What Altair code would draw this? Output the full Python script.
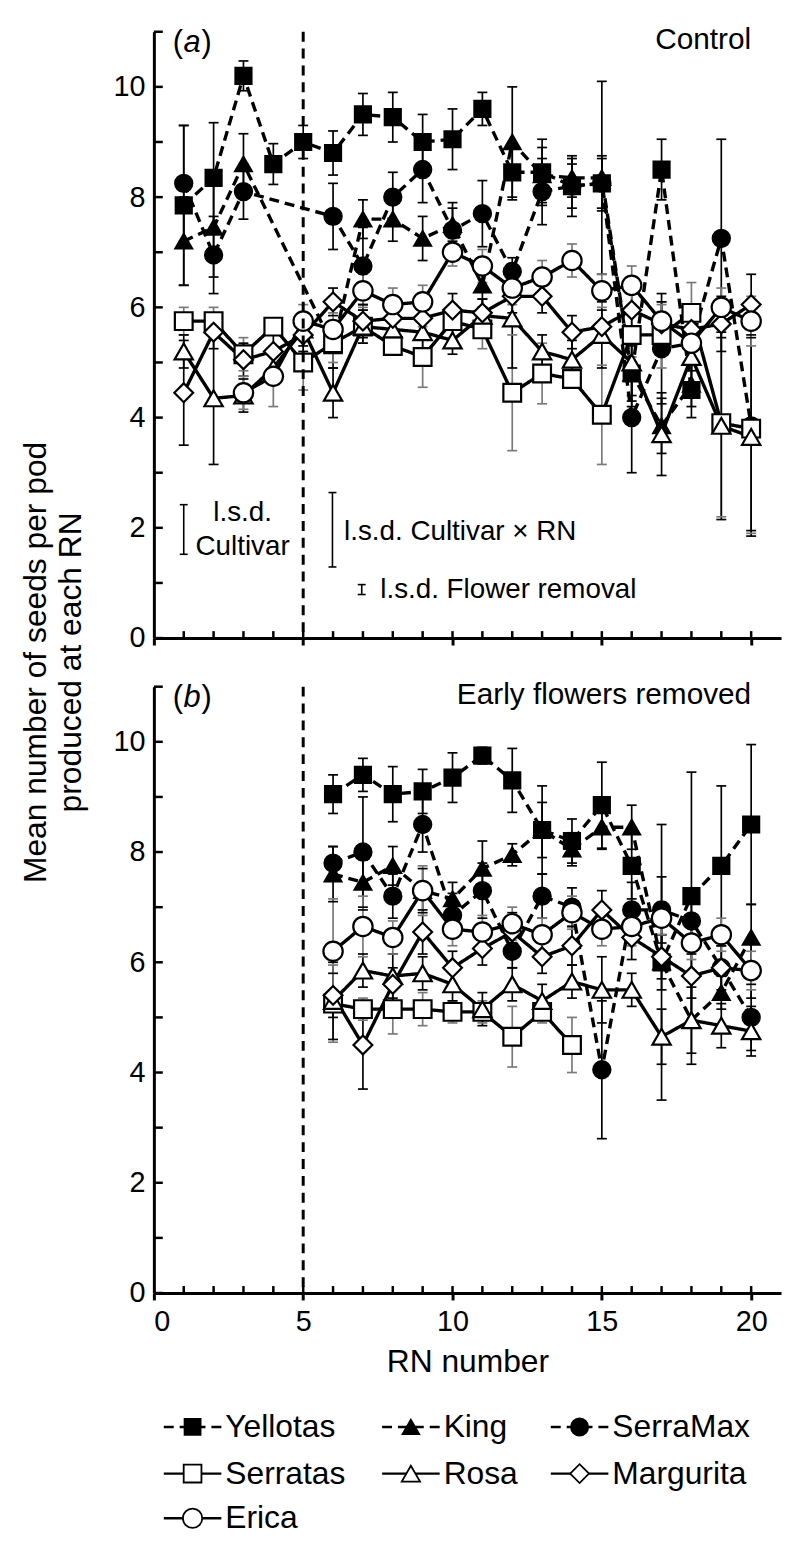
import altair as alt
import pandas as pd

FONT = "Liberation Sans"

# ---------------- data ----------------
cultivars = ["Yellotas", "King", "SerraMax", "Serratas", "Rosa", "Margurita", "Erica"]
line_style = ["dash", "dash", "dash", "solid", "solid", "solid", "solid"]
shapes = ["square", "triangle-up", "circle", "square", "triangle-up", "diamond", "circle"]
fills = ["black", "black", "black", "white", "white", "white", "white"]
sizes = [260, 380, 300, 260, 380, 330, 300]
legend_sizes = [130, 200, 150, 130, 200, 190, 150]
bar_colors = ["black", "black", "black", "#7a7a7a", "black", "black", "#7a7a7a"]

# Panel (a) Control
a_yellotas_rn = list(range(1, 19))
a_yellotas = [7.85, 8.35, 10.2, 8.6, 9.0, 8.8, 9.5, 9.45, 9.0, 9.05, 9.6, 8.45, 8.45, 8.2, 8.25, 4.8, 8.5, 4.5]
a_yellotas_err = [1.45, 1.0, 0.27, 0.37, 0.3, 0.4, 0.38, 0.45, 0.5, 0.55, 0.3, 0.5, 0.6, 0.55, 0.5, 0.5, 0.55, 0.5]

a_king_rn = [1, 2, 3, 6, 7, 8, 9, 10, 11, 12, 13, 14, 15, 16, 17, 18]
a_king = [7.2, 7.45, 8.6, 5.3, 7.6, 7.6, 7.25, 7.5, 6.4, 9.0, 8.4, 8.35, 8.35, 4.8, 3.85, 4.6]
a_king_err = [0.8, 0.9, 0.55, 0.4, 0.35, 0.4, 0.4, 0.3, 0.4, 1.0, 0.5, 0.35, 1.75, 0.6, 0.5, 0.4]

a_serramax_rn = [1, 2, 3, 6, 7, 8, 9, 10, 11, 12, 13, 14, 15, 16, 17, 18, 19, 20]
a_serramax = [8.25, 6.95, 8.1, 7.65, 6.75, 8.0, 8.5, 7.4, 7.7, 6.65, 8.1, 8.2, 8.25, 4.0, 5.25, 5.35, 7.25, 3.85]
a_serramax_err = [1.05, 0.7, 0.5, 0.6, 0.7, 0.45, 0.6, 0.5, 0.6, 0.25, 0.6, 0.4, 0.45, 1.0, 1.0, 0.5, 1.8, 1.9]

a_serratas_rn = list(range(1, 21))
a_serratas = [5.75, 5.75, 5.15, 5.65, 5.0, 5.35, 5.65, 5.3, 5.1, 5.75, 5.6, 4.45, 4.8, 4.7, 4.05, 5.5, 5.5, 5.9, 3.9, 3.8]
a_serratas_err = [0.25, 0.25, 0.3, 0.15, 0.5, 0.35, 0.3, 0.15, 0.55, 0.3, 0.35, 1.05, 0.55, 0.15, 0.9, 0.4, 0.6, 0.55, 1.7, 1.9]

a_rosa_rn = list(range(1, 21))
a_rosa = [5.2, 4.35, 4.4, 4.9, 5.6, 4.45, 5.65, 5.6, 5.55, 5.4, 5.85, 5.8, 5.2, 5.05, 5.5, 5.0, 3.7, 5.1, 3.85, 3.65]
a_rosa_err = [0.3, 1.2, 0.3, 0.3, 0.3, 0.45, 0.3, 0.3, 0.3, 0.25, 0.3, 0.9, 0.3, 0.35, 0.6, 0.6, 0.75, 0.5, 1.7, 1.8]

a_margurita_rn = list(range(1, 21))
a_margurita = [4.45, 5.55, 5.05, 5.2, 5.5, 6.1, 5.75, 5.8, 5.8, 5.95, 5.9, 6.2, 6.2, 5.55, 5.65, 5.95, 5.7, 5.6, 5.7, 6.05]
a_margurita_err = [0.95, 0.3, 0.3, 0.3, 0.3, 0.25, 0.3, 0.3, 0.3, 0.3, 0.25, 0.3, 0.3, 0.3, 0.3, 0.4, 0.4, 0.4, 0.5, 0.55]

a_erica_rn = list(range(3, 21))
a_erica = [4.45, 4.75, 5.75, 5.6, 6.3, 6.05, 6.1, 7.0, 6.75, 6.35, 6.55, 6.85, 6.3, 6.4, 5.75, 5.35, 6.0, 5.75]
a_erica_err = [0.3, 0.55, 0.3, 0.3, 0.3, 0.3, 0.3, 0.25, 0.3, 0.3, 0.3, 0.3, 0.3, 0.35, 0.3, 0.3, 0.35, 0.45]

# Panel (b) Early flowers removed
b_rn = list(range(6, 21))
b_yellotas = [9.05, 9.4, 9.05, 9.1, 9.35, 9.75, 9.3, 8.4, 8.2, 8.85, 7.75, 6.0, 7.2, 7.75, 8.5]
b_yellotas_err = [0.35, 0.3, 0.5, 0.4, 0.45, 0.15, 0.58, 0.8, 0.4, 0.78, 0.6, 2.5, 2.25, 1.45, 1.45]
b_king = [7.6, 7.45, 7.75, 7.3, 7.15, 7.7, 7.95, 8.4, 8.05, 8.45, 8.45, 6.0, 4.95, 5.45, 6.45]
b_king_err = [0.5, 0.5, 0.35, 0.4, 0.3, 0.5, 0.2, 0.5, 0.3, 0.4, 0.4, 0.5, 0.6, 0.3, 0.6]
b_serramax = [7.8, 8.0, 7.2, 8.5, 6.85, 7.3, 6.2, 7.2, 7.0, 4.05, 6.95, 6.95, 6.75, 5.9, 5.0]
b_serramax_err = [0.3, 1.0, 0.4, 0.5, 0.4, 0.5, 0.3, 0.4, 0.35, 1.25, 0.5, 0.6, 0.5, 0.5, 0.6]
b_serratas_rn = list(range(6, 15))
b_serratas = [5.25, 5.15, 5.15, 5.15, 5.1, 5.1, 4.65, 5.1, 4.5]
b_serratas_err = [0.7, 0.2, 0.45, 0.3, 0.2, 0.2, 0.55, 0.2, 0.5]
b_rosa = [5.3, 5.85, 5.75, 5.8, 5.6, 5.15, 5.6, 5.3, 5.65, 5.5, 5.5, 4.65, 4.95, 4.85, 4.75]
b_rosa_err = [0.7, 0.3, 0.4, 0.3, 0.3, 0.3, 0.3, 0.3, 0.3, 0.6, 0.3, 0.5, 0.8, 0.4, 0.45]
b_margurita = [5.4, 4.5, 5.6, 6.55, 5.9, 6.25, 6.55, 6.1, 6.3, 6.95, 6.45, 6.1, 5.75, 5.9, 5.85]
b_margurita_err = [0.4, 0.8, 0.3, 0.4, 0.3, 0.3, 0.35, 0.3, 0.35, 0.35, 0.4, 0.4, 0.4, 0.4, 0.5]
b_erica = [6.2, 6.65, 6.45, 7.3, 6.6, 6.55, 6.7, 6.5, 6.9, 6.6, 6.65, 6.8, 6.35, 6.5, 5.85]
b_erica_err = [0.95, 0.55, 0.3, 0.45, 0.3, 0.3, 0.3, 0.3, 0.3, 0.3, 0.35, 0.3, 0.3, 0.3, 0.35]

# annotations
vline_x = [5]
x_tick_values = [0, 5, 10, 15, 20]
minor_x = list(range(1, 21))
minor_y = list(range(0, 12))
lsd_x = [1.0, 5.98, 6.96]
lsd_lo = [1.52, 1.29, 0.79]
lsd_hi = [2.42, 2.64, 0.97]
lsd_text = ["l.s.d.", "Cultivar", "l.s.d. Cultivar \u00d7 RN", "l.s.d. Flower removal"]
lsd_text_x = [2.97, 2.97, 6.37, 7.58]
lsd_text_y = [2.27, 1.66, 1.92, 0.88]
lsd_text_align = ["center", "center", "left", "left"]
panel_letters = ["a", "b"]
panel_titles = ["Control", "Early flowers removed"]
y_title = "Mean number of seeds per pod\nproduced at each RN"

# ---------------- helpers ----------------
def rows(name, rns, means, errs):
    return [dict(cultivar=name, style=line_style[cultivars.index(name)], rn=r, mean=m,
                 lo=round(m - e, 3), hi=round(m + e, 3)) for r, m, e in zip(rns, means, errs)]

df_a = pd.DataFrame(
    rows("Yellotas", a_yellotas_rn, a_yellotas, a_yellotas_err)
    + rows("King", a_king_rn, a_king, a_king_err)
    + rows("SerraMax", a_serramax_rn, a_serramax, a_serramax_err)
    + rows("Serratas", a_serratas_rn, a_serratas, a_serratas_err)
    + rows("Rosa", a_rosa_rn, a_rosa, a_rosa_err)
    + rows("Margurita", a_margurita_rn, a_margurita, a_margurita_err)
    + rows("Erica", a_erica_rn, a_erica, a_erica_err)
)
df_b = pd.DataFrame(
    rows("Yellotas", b_rn, b_yellotas, b_yellotas_err)
    + rows("King", b_rn, b_king, b_king_err)
    + rows("SerraMax", b_rn, b_serramax, b_serramax_err)
    + rows("Serratas", b_serratas_rn, b_serratas, b_serratas_err)
    + rows("Rosa", b_rn, b_rosa, b_rosa_err)
    + rows("Margurita", b_rn, b_margurita, b_margurita_err)
    + rows("Erica", b_rn, b_erica, b_erica_err)
)

W, H, SP = 632, 611, 49
LEG_H = 196

xs = alt.Scale(domain=[0, 21], nice=False, zero=False)
ys = alt.Scale(domain=[0, 11], nice=False)
dash_scale = alt.Scale(domain=["dash", "solid"], range=[[10, 6], [1, 0]])
shape_scale = alt.Scale(domain=cultivars, range=shapes)
fill_scale = alt.Scale(domain=cultivars, range=fills)
size_scale = alt.Scale(domain=cultivars, range=sizes)
bar_scale = alt.Scale(domain=cultivars, range=bar_colors)


def make_panel(df, idx, show_x):
    if show_x:
        xaxis = alt.Axis(values=x_tick_values, labels=True, tickSize=7, tickWidth=3,
                         domainWidth=3, labelPadding=8, titlePadding=10, grid=False,
                         title="RN number")
    else:
        xaxis = alt.Axis(values=x_tick_values, labels=False, tickSize=7, tickWidth=3,
                         domainWidth=3, grid=False, title=None)
    yaxis = alt.Axis(values=minor_y, labelExpr="datum.value % 2 == 0 ? datum.label : ''",
                     ticks=False, labelPadding=9, domainWidth=3, grid=False, title=None)

    def X(f):
        return alt.X(f, scale=xs, axis=xaxis)

    def Y(f):
        return alt.Y(f, scale=ys, axis=yaxis)

    base = alt.Chart(df)
    bars = base.mark_rule(strokeWidth=1.7).encode(
        x=X("rn:Q"), y=Y("lo:Q"), y2="hi:Q",
        color=alt.Color("cultivar:N", scale=bar_scale, legend=None),
    )
    caps = base.transform_fold(["lo", "hi"], as_=["end", "val"]).mark_rule(
        strokeWidth=1.7, xOffset=-5, x2Offset=5).encode(
        x=X("rn:Q"), x2=alt.X2("rn:Q"), y=Y("val:Q"),
        color=alt.Color("cultivar:N", scale=bar_scale, legend=None),
    )
    lines = base.mark_line(strokeWidth=3.4, color="black").encode(
        x=X("rn:Q"), y=Y("mean:Q"),
        detail="cultivar:N",
        strokeDash=alt.StrokeDash("style:N", scale=dash_scale, legend=None),
        order=alt.Order("rn:Q"),
    )
    points = base.mark_point(filled=True, stroke="black", strokeWidth=2.2, opacity=1).encode(
        x=X("rn:Q"), y=Y("mean:Q"),
        shape=alt.Shape("cultivar:N", scale=shape_scale, legend=None),
        fill=alt.Fill("cultivar:N", scale=fill_scale, legend=None),
        size=alt.Size("cultivar:N", scale=size_scale, legend=None),
    )
    vline = alt.Chart(pd.DataFrame({"x": vline_x})).mark_rule(
        strokeWidth=3, strokeDash=[10, 7], color="black").encode(
        x=X("x:Q"), y=alt.value(0), y2=alt.value(H))
    yt = alt.Chart(pd.DataFrame({"v": minor_y})).mark_rule(strokeWidth=2.5, color="black").encode(
        y=Y("v:Q"), x=alt.value(0), x2=alt.value(9))
    xt = alt.Chart(pd.DataFrame({"v": minor_x})).mark_rule(strokeWidth=2.5, color="black").encode(
        x=X("v:Q"), y=alt.value(H), y2=alt.value(H - 7))
    hdr = pd.DataFrame({"x": [0.63], "y": [10.8], "letter": [panel_letters[idx]],
                        "tx": [20], "ty": [10.85], "title": [panel_titles[idx]]})
    hbase = alt.Chart(hdr)
    p_open = hbase.mark_text(text="(", align="left", baseline="middle", font=FONT, fontSize=31).encode(
        x=X("x:Q"), y=Y("y:Q"))
    p_let = hbase.mark_text(align="left", baseline="middle", font=FONT, fontSize=31,
                            fontStyle="italic", dx=11).encode(
        x=X("x:Q"), y=Y("y:Q"), text="letter:N")
    p_close = hbase.mark_text(text=")", align="left", baseline="middle", font=FONT, fontSize=31, dx=29).encode(
        x=X("x:Q"), y=Y("y:Q"))
    ttl = hbase.mark_text(align="right", baseline="middle", font=FONT, fontSize=30).encode(
        x=X("tx:Q"), y=Y("ty:Q"), text="title:N")
    layers = [bars, caps, lines, points, vline, yt, xt, p_open, p_let, p_close, ttl]
    if idx == 0:
        lsd = pd.DataFrame({"x": lsd_x, "lo": lsd_lo, "hi": lsd_hi})
        lsd_bar = alt.Chart(lsd).mark_rule(strokeWidth=1.6, color="black").encode(
            x=X("x:Q"), y=Y("lo:Q"), y2="hi:Q")
        lsd_caps = alt.Chart(lsd).transform_fold(["lo", "hi"], as_=["end", "val"]).mark_rule(
            strokeWidth=1.6, color="black", xOffset=-4, x2Offset=4).encode(
            x=X("x:Q"), x2=alt.X2("x:Q"), y=Y("val:Q"))
        lt = pd.DataFrame({"x": lsd_text_x, "y": lsd_text_y, "t": lsd_text, "al": lsd_text_align})
        lsd_c = alt.Chart(lt[lt.al == "center"]).mark_text(align="center", baseline="middle",
                                                           font=FONT, fontSize=28).encode(
            x=X("x:Q"), y=Y("y:Q"), text="t:N")
        lsd_l = alt.Chart(lt[lt.al == "left"]).mark_text(align="left", baseline="middle",
                                                         font=FONT, fontSize=28).encode(
            x=X("x:Q"), y=Y("y:Q"), text="t:N")
        ytitle = alt.Chart(pd.DataFrame({"t": [y_title]})).mark_text(
            angle=270, align="center", baseline="top", lineBreak="\n", font=FONT,
            fontSize=32, lineHeight=36).encode(
            text="t:N", x=alt.value(-134), y=alt.value(H + SP / 2))
        layers += [lsd_bar, lsd_caps, lsd_c, lsd_l, ytitle]
    return alt.layer(*layers).properties(width=W, height=H)


panel_a = make_panel(df_a, 0, False)
panel_b = make_panel(df_b, 1, True)

# ---------------- legend ----------------
leg_cols = [0, 1, 2, 0, 1, 2, 0]
leg_rows = [0, 0, 0, 1, 1, 1, 2]
col_x = [10, 230, 400]
row_y = [86, 133, 178]
leg = pd.DataFrame({
    "cultivar": cultivars,
    "style": line_style,
    "x0": [col_x[c] for c in leg_cols],
    "x1": [col_x[c] + 58 for c in leg_cols],
    "xm": [col_x[c] + 29 for c in leg_cols],
    "xt": [col_x[c] + 62 for c in leg_cols],
    "y": [row_y[r] for r in leg_rows],
})
lxs = alt.Scale(domain=[0, W], nice=False, zero=False)
lys = alt.Scale(domain=[0, LEG_H], nice=False, reverse=True)
lbase = alt.Chart(leg)
l_line = lbase.mark_rule(strokeWidth=2.4, color="black").encode(
    x=alt.X("x0:Q", scale=lxs, axis=None), x2="x1:Q",
    y=alt.Y("y:Q", scale=lys, axis=None),
    strokeDash=alt.StrokeDash("style:N", scale=alt.Scale(domain=["dash", "solid"], range=[[5, 4], [1, 0]]), legend=None))
l_pt = lbase.mark_point(filled=True, stroke="black", strokeWidth=1.8, opacity=1).encode(
    x=alt.X("xm:Q", scale=lxs, axis=None), y=alt.Y("y:Q", scale=lys, axis=None),
    shape=alt.Shape("cultivar:N", scale=shape_scale, legend=None),
    fill=alt.Fill("cultivar:N", scale=fill_scale, legend=None),
    size=alt.Size("cultivar:N", scale=alt.Scale(domain=cultivars, range=legend_sizes), legend=None))
l_txt = lbase.mark_text(align="left", baseline="middle", font=FONT, fontSize=32).encode(
    x=alt.X("xt:Q", scale=lxs, axis=None), y=alt.Y("y:Q", scale=lys, axis=None), text="cultivar:N")
legend = alt.layer(l_line, l_pt, l_txt).properties(width=W, height=LEG_H)

chart = alt.vconcat(panel_a, panel_b, legend, spacing=SP, bounds="flush").properties(
    padding={"left": 12, "top": 11, "right": 3, "bottom": 2}
).configure_view(stroke=None).configure_axis(
    labelFont=FONT, labelFontSize=29, labelColor="black", titleFont=FONT, titleFontSize=32,
    titleFontWeight="normal", titleColor="black", domainColor="black", tickColor="black"
)

chart.save("out.html", embed_options={"renderer": "svg", "actions": False})
